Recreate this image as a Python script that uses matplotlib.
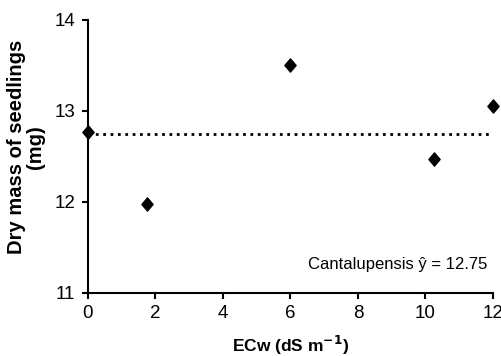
import matplotlib
matplotlib.use("Agg")
import matplotlib.pyplot as plt
from matplotlib.path import Path
import numpy as np

plt.rcParams['font.family'] = ['Liberation Sans', 'DejaVu Sans']

ecw = [0, 1.75, 6, 10.25, 12]
dry_mass = [12.77, 11.98, 13.50, 12.47, 13.05]
mean_value = 12.75
x_ticks = [0, 2, 4, 6, 8, 10, 12]
y_ticks = [11, 12, 13, 14]

diamond = Path([(0, 1), (0.85, 0), (0, -1), (-0.85, 0), (0, 1)],
               [Path.MOVETO, Path.LINETO, Path.LINETO, Path.LINETO, Path.CLOSEPOLY])

fig = plt.figure(figsize=(5.02, 3.56), dpi=100)
ax = fig.add_axes([0.175, 0.177, 0.807, 0.767])

ax.plot([0, 12], [mean_value, mean_value], linestyle=':', color='black', linewidth=2)
ax.plot(ecw, dry_mass, linestyle='none', marker=diamond, markersize=9.5, color='black', clip_on=False)

ax.set_xlim(0, 12)
ax.set_ylim(11, 14)
ax.set_xticks(x_ticks)
ax.set_yticks(y_ticks)
for s in ['top', 'right']:
    ax.spines[s].set_visible(False)
for s in ['left', 'bottom']:
    ax.spines[s].set_linewidth(1.5)
ax.tick_params(direction='out', length=4, width=1.5, labelsize=13.5, colors='black', pad=5)

ax.set_xlabel('ECw (dS m$^{\\mathbf{-1}}$)', fontsize=12.5, fontweight='bold', labelpad=8)
ax.set_ylabel('Dry mass of seedlings\n(mg)', fontsize=14.5, fontweight='bold', labelpad=6, linespacing=1.0)
ax.yaxis.set_label_coords(-0.105, 0.535)

ax.text(0.985, 0.105, 'Cantalupensis ŷ = 12.75', transform=ax.transAxes, ha='right', va='center', fontsize=12)

fig.savefig('out.png', dpi=100)
